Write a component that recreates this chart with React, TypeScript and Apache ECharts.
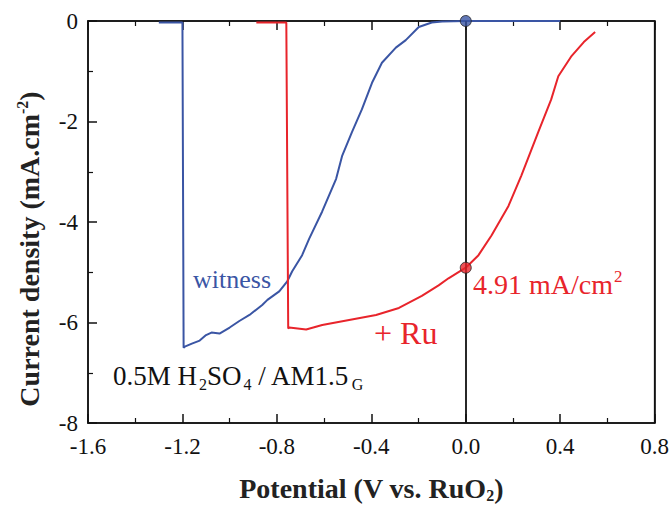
import React, { useEffect, useRef } from "react";
import * as echarts from "echarts";

// witness (blue) curve: potential (V vs RuO2) and current density (mA/cm2)
const witnessV = [-1.3, -1.25, -1.2, -1.195, -1.19, -1.16, -1.127, -1.1, -1.077, -1.043, -1.0, -0.959, -0.916, -0.862, -0.84, -0.79, -0.756, -0.735, -0.693, -0.663, -0.608, -0.549, -0.524, -0.482, -0.44, -0.397, -0.355, -0.296, -0.254, -0.199, -0.144, -0.1, 0, 0.2, 0.4];
const witnessI = [-0.03, -0.03, -0.03, -6.5, -6.48, -6.42, -6.36, -6.25, -6.2, -6.22, -6.1, -5.97, -5.85, -5.65, -5.55, -5.38, -5.18, -4.98, -4.66, -4.33, -3.79, -3.14, -2.69, -2.21, -1.76, -1.23, -0.83, -0.53, -0.38, -0.12, -0.03, -0.01, 0, 0, 0];

// + Ru (red) curve
const ruV = [-0.887, -0.82, -0.76, -0.752, -0.748, -0.676, -0.608, -0.494, -0.38, -0.283, -0.186, -0.115, -0.073, 0, 0.054, 0.109, 0.181, 0.235, 0.307, 0.362, 0.392, 0.446, 0.5, 0.548];
const ruI = [-0.03, -0.03, -0.03, -6.12, -6.1, -6.14, -6.05, -5.95, -5.85, -5.71, -5.47, -5.26, -5.12, -4.91, -4.66, -4.27, -3.68, -3.08, -2.21, -1.56, -1.1, -0.71, -0.42, -0.22];

// highlighted points at 0 V
const markerV = [0, 0];
const markerI = [0, -4.91];
const markerColors = ["#3a55a4", "#e8242b"];

const xTicks = { min: -1.6, max: 0.8, interval: 0.4 };
const yTicks = { min: -8, max: 0, interval: 2 };

const BLUE = "#3a55a4";
const RED = "#e8242b";
const FONT = "'Liberation Serif', 'Times New Roman', serif";

export default function App() {
  const ref = useRef<HTMLDivElement>(null);
  useEffect(() => {
    if (!ref.current) return;
    const chart = echarts.init(ref.current, null, { renderer: "svg" });
    const tickCommon = {
      axisLine: { show: true, onZero: false, lineStyle: { color: "#111", width: 1.5 } },
      axisTick: { show: true, inside: true, length: 9, lineStyle: { color: "#111", width: 1.5 } },
      minorTick: { show: true, splitNumber: 2, length: 5, lineStyle: { color: "#111", width: 1.2 } },
      splitLine: { show: false },
    };
    const sub = { fontSize: 16, fontFamily: FONT, padding: [14, 0, 0, 0] };
    chart.setOption({
      animation: false,
      backgroundColor: "#fff",
      grid: { left: 88, right: 15, top: 21, bottom: 82, show: true, borderColor: "#111", borderWidth: 1.5 },
      xAxis: [
        {
          type: "value",
          position: "bottom",
          ...xTicks,
          ...tickCommon,
          axisLabel: {
            margin: 12,
            color: "#111",
            fontSize: 23,
            fontFamily: FONT,
            formatter: (v: number) => v.toFixed(1),
          },
          name: "Potential (V vs. RuO{sub|2})",
          nameLocation: "middle",
          nameGap: 50,
          nameTextStyle: {
            color: "#222",
            fontSize: 28,
            fontWeight: "bold",
            fontFamily: FONT,
            rich: { sub: { ...sub, fontWeight: "bold", fontSize: 16, color: "#222" } },
          },
        },
        {
          type: "value",
          position: "top",
          ...xTicks,
          ...tickCommon,
          axisLabel: { show: false },
        },
      ],
      yAxis: [
        {
          type: "value",
          position: "left",
          ...yTicks,
          ...tickCommon,
          axisLabel: { margin: 10, color: "#111", fontSize: 23, fontFamily: FONT },
        },
        {
          type: "value",
          position: "right",
          ...yTicks,
          axisLine: { show: true, onZero: false, lineStyle: { color: "#111", width: 1.5 } },
          axisTick: { show: false },
          axisLabel: { show: false },
          splitLine: { show: false },
        },
      ],
      series: [
        {
          type: "line",
          name: "witness",
          data: witnessV.map((v, i) => [v, witnessI[i]]),
          showSymbol: false,
          lineStyle: { color: BLUE, width: 2 },
          itemStyle: { color: BLUE },
          z: 3,
          markLine: {
            silent: true,
            symbol: ["none", "none"],
            label: { show: false },
            lineStyle: { color: "#111", width: 1.8, type: "solid" },
            data: [{ xAxis: 0 }],
          },
        },
        {
          type: "line",
          name: "+ Ru",
          data: ruV.map((v, i) => [v, ruI[i]]),
          showSymbol: false,
          lineStyle: { color: RED, width: 2 },
          itemStyle: { color: RED },
          z: 3,
        },
        {
          type: "scatter",
          data: markerV.map((v, i) => ({
            value: [v, markerI[i]],
            itemStyle: { color: markerColors[i] },
          })),
          symbolSize: 11,
          itemStyle: { borderColor: "#222", borderWidth: 1 },
          z: 5,
        },
      ],
      graphic: [
        {
          type: "text",
          x: 29,
          y: 249,
          rotation: Math.PI / 2,
          style: {
            text: "Current density (mA.cm{sup|-2})",
            fill: "#222",
            font: `bold 28px ${FONT}`,
            align: "center",
            verticalAlign: "middle",
            rich: { sup: { fontSize: 16, fontWeight: "bold", fontFamily: FONT, fill: "#222", padding: [0, 0, 14, 0] } },
          },
        },
        {
          type: "text",
          left: 193,
          top: 266,
          style: { text: "witness", fill: BLUE, font: `26px ${FONT}` },
        },
        {
          type: "text",
          left: 374,
          top: 317,
          style: { text: "+ Ru", fill: RED, font: `32px ${FONT}` },
        },
        {
          type: "text",
          left: 473,
          top: 268,
          style: {
            text: "4.91 mA/cm{sup|2}",
            fill: RED,
            font: `28px ${FONT}`,
            rich: { sup: { fontSize: 17, fontFamily: FONT, fill: RED, padding: [0, 0, 15, 1] } },
          },
        },
        {
          type: "text",
          left: 113,
          top: 362,
          style: {
            text: "0.5M H{sub|2}SO{sub|4} / AM1.5{sub|G}",
            fill: "#111",
            font: `27px ${FONT}`,
            rich: { sub: { fontSize: 16, fontFamily: FONT, fill: "#111", padding: [17, 0, 0, 2] } },
          },
        },
      ],
    });
    return () => chart.dispose();
  }, []);
  return (
    <div
      ref={ref}
      style={{ position: "fixed", left: 0, top: 0, width: 672, height: 508, background: "#fff" }}
    />
  );
}
